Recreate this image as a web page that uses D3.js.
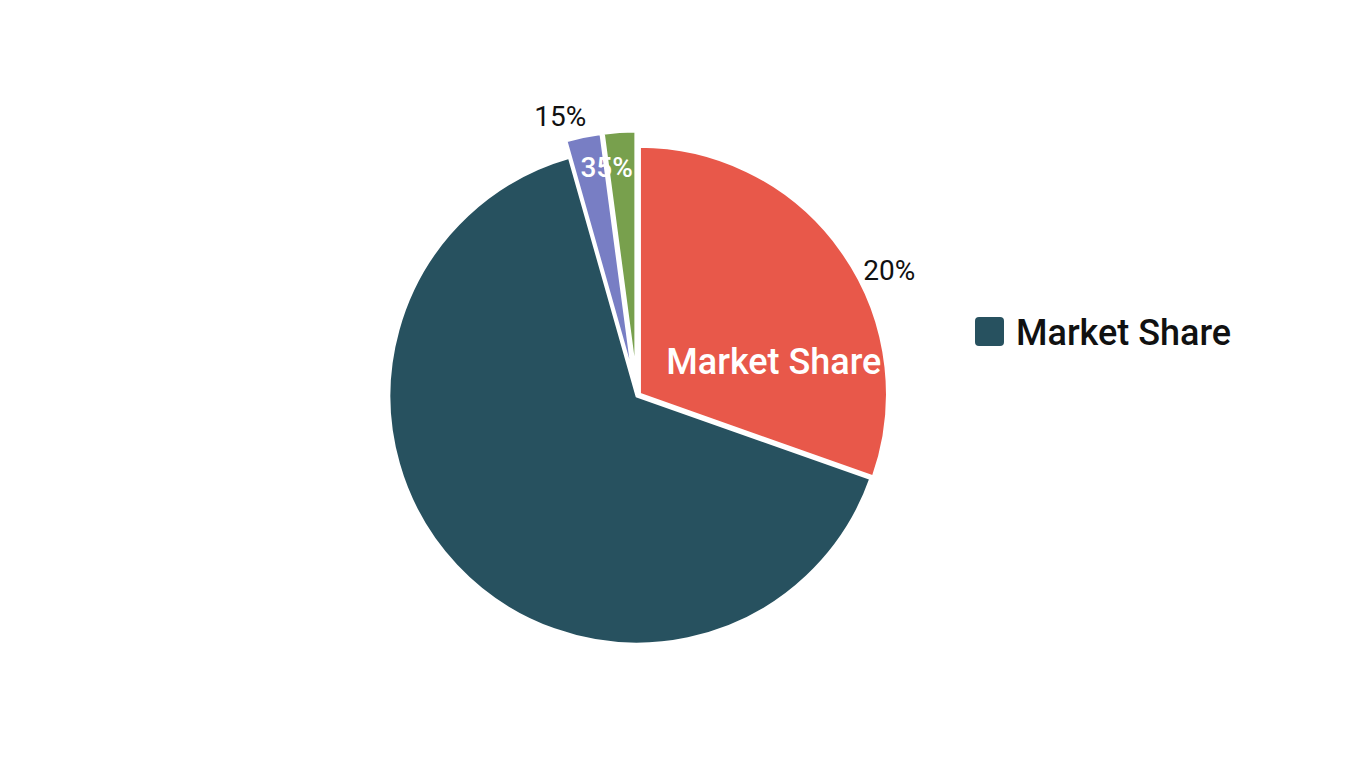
<!DOCTYPE html>
<html>
  <head>
    <meta charset="utf-8">
    <title>Market Share</title>
    <style>
      body {
        margin: 0;
        padding: 0;
        background: #fff;
        font-family: Roboto, 'Noto Sans', sans-serif;
      }
    </style>
  </head>
  <body>
    <div id="chart"></div>

    <script src="https://cdnjs.cloudflare.com/ajax/libs/d3/7.8.5/d3.min.js"></script>
    <script>
      // Data
      const categories = ["A", "B", "C", "D"];
      const values = [30.4, 65.2, 2.3, 2.1];
      const colors = ["#e8584a", "#27515f", "#787ec4", "#78a04d"];
      const seriesName = "Market Share";
      // labels as drawn on the chart
      const outerLabels = ["20%", "15%"];
      const innerLabels = ["Market Share", "35%"];

      const width = 1365, height = 768;
      const cx = 637, cy = 396, radius = 248;
      const explode = [3, 0, 17, 17];

      const svg = d3.select('#chart')
                    .append('svg')
                    .attr('width', width)
                    .attr('height', height);

      const g = svg.append('g')
                   .attr('transform', `translate(${cx},${cy})`);

      const pie = d3.pie().sort(null).value(d => d)(values);
      const arc = d3.arc().innerRadius(0).outerRadius(radius);

      // slices
      g.selectAll('.slice')
       .data(pie)
       .enter()
       .append('path')
       .attr('class', 'slice')
       .attr('d', arc)
       .attr('fill', (d, i) => colors[i])
       .attr('stroke', '#fff')
       .attr('stroke-width', 3)
       .attr('stroke-linejoin', 'round')
       .attr('transform', (d, i) => {
         const [x, y] = d3.pointRadial((d.startAngle + d.endAngle) / 2, explode[i]);
         return `translate(${x},${y})`;
       });

      const lerp = (d, t) => d.startAngle + (d.endAngle - d.startAngle) * t;

      // label placement: angle inside slice, radius
      const labelSpots = [
        {text: outerLabels[0], a: lerp(pie[0], 0.58), r: 282, fill: '#111', size: 28, weight: 400},
        {text: outerLabels[1], a: lerp(pie[2], 0.06), r: 290, fill: '#111', size: 28, weight: 400},
        {text: innerLabels[0], a: lerp(pie[0], 0.695), r: 141, fill: '#fff', size: 36, weight: 500},
        {text: innerLabels[1], a: pie[2].endAngle, r: 231, fill: '#fff', size: 28, weight: 500}
      ];

      g.selectAll('.label')
       .data(labelSpots)
       .enter()
       .append('text')
       .attr('class', 'label')
       .attr('x', d => d3.pointRadial(d.a, d.r)[0])
       .attr('y', d => d3.pointRadial(d.a, d.r)[1])
       .attr('text-anchor', 'middle')
       .attr('dominant-baseline', 'central')
       .attr('fill', d => d.fill)
       .attr('font-size', d => d.size)
       .attr('font-weight', d => d.weight)
       .text(d => d.text);

      // legend
      const legend = svg.append('g')
                        .attr('transform', 'translate(975,317)');
      legend.append('rect')
            .attr('width', 29)
            .attr('height', 29)
            .attr('rx', 4)
            .attr('fill', colors[1]);
      legend.append('text')
            .attr('x', 41)
            .attr('y', 16)
            .attr('dominant-baseline', 'central')
            .attr('font-size', 36)
            .attr('font-weight', 500)
            .attr('fill', '#111')
            .text(seriesName);
    </script>
  </body>
</html>
